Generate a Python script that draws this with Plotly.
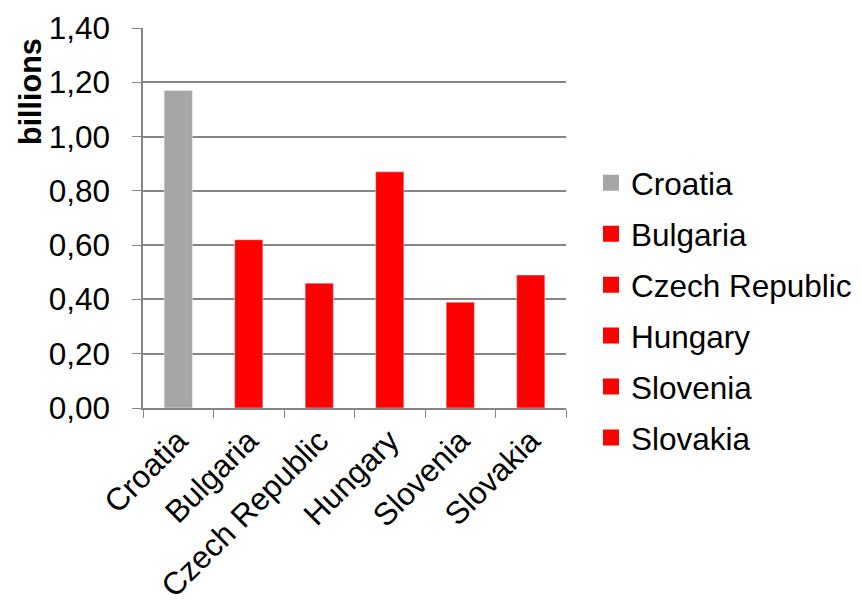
import plotly.graph_objects as go

countries = ["Croatia", "Bulgaria", "Czech Republic", "Hungary", "Slovenia", "Slovakia"]
values = [1.17, 0.62, 0.46, 0.87, 0.39, 0.49]
colors = ["#A6A6A6", "#FF0000", "#FF0000", "#FF0000", "#FF0000", "#FF0000"]
y_ticks = [0, 0.2, 0.4, 0.6, 0.8, 1.0, 1.2, 1.4]

FONT = "Liberation Sans, Arial, sans-serif"
GRID = "#868686"
FS = 31.5

fig = go.Figure()
for c, v, col in zip(countries, values, colors):
    fig.add_trace(go.Bar(x=[c], y=[v], marker_color=col, width=0.4,
                         showlegend=False, name=c))
for c, col in zip(countries, colors):
    fig.add_trace(go.Scatter(x=[None], y=[None], mode="markers", name=c,
                             marker=dict(symbol="square", size=16, color=col),
                             legendgroup=c, showlegend=True))

W, H = 853, 593
fig.update_layout(
    width=W, height=H,
    margin=dict(l=135, r=295, t=20, b=193),
    paper_bgcolor="white", plot_bgcolor="white",
    barmode="overlay",
    separators=",.",
    font=dict(family=FONT, size=FS, color="black"),
    legend=dict(xref="container", yref="container",
                x=583 / W, xanchor="left",
                y=1 - 296 / H, yanchor="middle",
                traceorder="grouped", tracegroupgap=7, itemsizing="trace",
                font=dict(size=FS)),
    annotations=[dict(text="<b>billions</b>", textangle=-90, xref="paper", yref="paper",
                      x=(30 - 143) / 423, y=(408 - 92) / 380, xanchor="center",
                      yanchor="middle", showarrow=False, font=dict(size=FS - 1))],
)
fig.update_xaxes(
    type="category", categoryorder="array", categoryarray=countries,
    tickangle=-45, ticks="outside", tickson="boundaries", ticklen=8,
    tickcolor=GRID, showline=True, linecolor=GRID, linewidth=1.5,
    showgrid=False, tickfont=dict(size=FS), automargin=False,
)
fig.update_yaxes(
    range=[0, 1.4], tickvals=y_ticks, tickformat=".2f",
    ticks="outside", ticklen=9, tickcolor=GRID,
    showline=True, linecolor=GRID, linewidth=1.5,
    showgrid=True, gridcolor=GRID, gridwidth=1.5,
    zeroline=False, ticklabelstandoff=16,
    tickfont=dict(size=FS), automargin=False,
)

fig.write_html("out.html")
